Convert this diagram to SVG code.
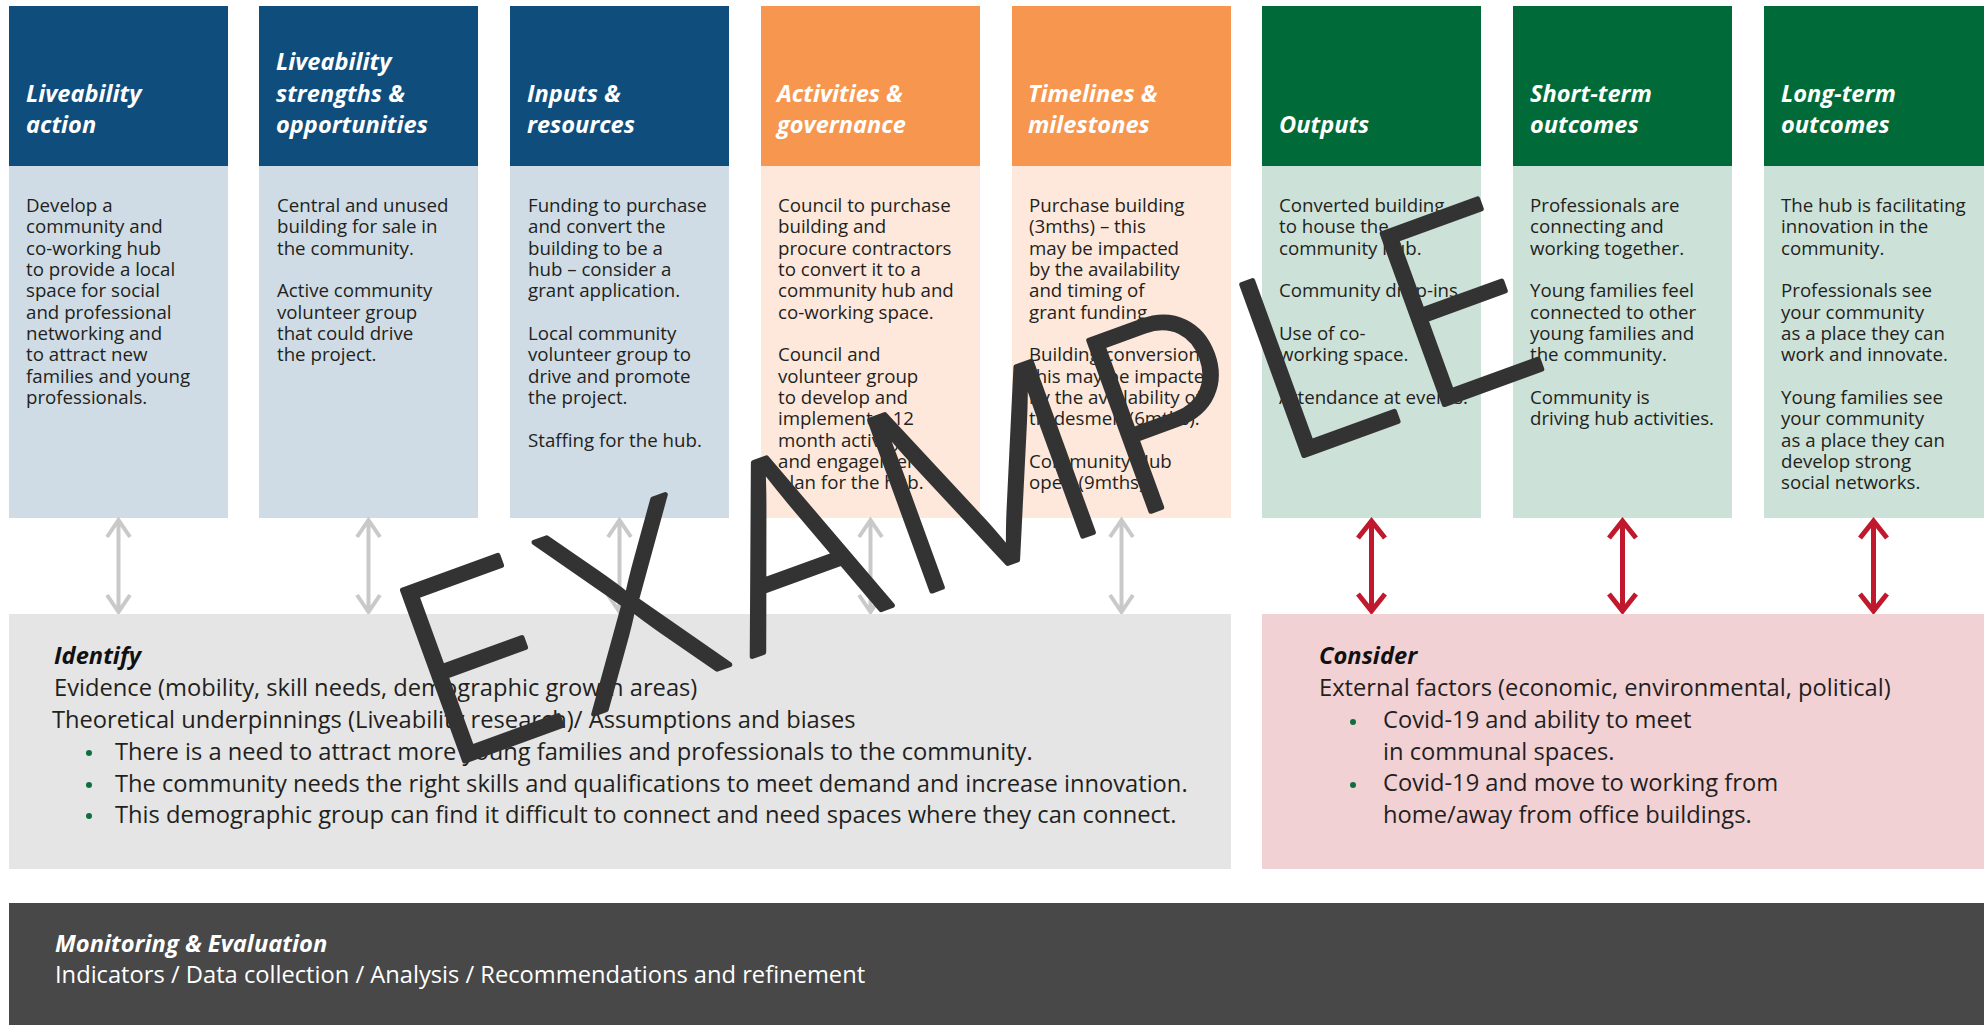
<svg xmlns="http://www.w3.org/2000/svg" width="1984" height="1025" viewBox="0 0 1984 1025">
<style>
.hd{font-family:"Open Sans","Noto Sans",sans-serif;font-weight:700;font-style:italic;font-size:23.6px;fill:#fff}
.bd{font-family:"Open Sans","Noto Sans",sans-serif;font-size:18.7px;fill:#231f20}
.bt{font-family:"Open Sans","Noto Sans",sans-serif;font-size:23.7px;fill:#231f20}
.bh{font-family:"Open Sans","Noto Sans",sans-serif;font-weight:700;font-style:italic;font-size:23.7px;fill:#111}
.blueH{fill:#0f4d7d}.blueB{fill:#cfdce5}
.orH{fill:#f7974f}.orB{fill:#fde8db}
.grH{fill:#006b38}.grB{fill:#cce1d8}
.dot{fill:#0e6e3e}
.ga{fill:none;stroke:#c9c9c9;stroke-width:4;stroke-linecap:butt;stroke-linejoin:miter}
.ra{fill:none;stroke:#c0192d;stroke-width:5;stroke-linecap:butt;stroke-linejoin:miter}
.wm{font-family:Inter,"Noto Sans",sans-serif;font-weight:200;font-size:250px;fill:#333;stroke:#333;stroke-width:5;stroke-linejoin:round}
</style>
<rect width="1984" height="1025" fill="#fff"/>

<g id="col1">
<rect class="blueH" x="9" y="6" width="219" height="160"/>
<rect class="blueB" x="9" y="166" width="219" height="352"/>
<text class="hd"><tspan x="26" y="101.5">Liveability</tspan><tspan x="26" y="133">action</tspan></text>
<text class="bd"><tspan x="26" y="212">Develop a</tspan><tspan x="26" y="233.3">community and</tspan><tspan x="26" y="254.7">co-working hub</tspan><tspan x="26" y="276">to provide a local</tspan><tspan x="26" y="297.3">space for social</tspan><tspan x="26" y="318.7">and professional</tspan><tspan x="26" y="340">networking and</tspan><tspan x="26" y="361.3">to attract new</tspan><tspan x="26" y="382.7">families and young</tspan><tspan x="26" y="404">professionals.</tspan></text>
</g>

<g id="col2">
<rect class="blueH" x="259" y="6" width="219" height="160"/>
<rect class="blueB" x="259" y="166" width="219" height="352"/>
<text class="hd"><tspan x="276" y="70">Liveability</tspan><tspan x="276" y="101.5">strengths &amp;</tspan><tspan x="276" y="133">opportunities</tspan></text>
<text class="bd"><tspan x="277" y="212">Central and unused</tspan><tspan x="277" y="233.3">building for sale in</tspan><tspan x="277" y="254.7">the community.</tspan><tspan x="277" y="297.3">Active community</tspan><tspan x="277" y="318.7">volunteer group</tspan><tspan x="277" y="340">that could drive</tspan><tspan x="277" y="361.3">the project.</tspan></text>
</g>

<g id="col3">
<rect class="blueH" x="510" y="6" width="219" height="160"/>
<rect class="blueB" x="510" y="166" width="219" height="352"/>
<text class="hd"><tspan x="527" y="101.5">Inputs &amp;</tspan><tspan x="527" y="133">resources</tspan></text>
<text class="bd"><tspan x="528" y="212">Funding to purchase</tspan><tspan x="528" y="233.3">and convert the</tspan><tspan x="528" y="254.7">building to be a</tspan><tspan x="528" y="276">hub – consider a</tspan><tspan x="528" y="297.3">grant application.</tspan><tspan x="528" y="340">Local community</tspan><tspan x="528" y="361.3">volunteer group to</tspan><tspan x="528" y="382.7">drive and promote</tspan><tspan x="528" y="404">the project.</tspan><tspan x="528" y="446.7">Staffing for the hub.</tspan></text>
</g>

<g id="col4">
<rect class="orH" x="761" y="6" width="219" height="160"/>
<rect class="orB" x="761" y="166" width="219" height="352"/>
<text class="hd"><tspan x="777" y="101.5">Activities &amp;</tspan><tspan x="777" y="133">governance</tspan></text>
<text class="bd"><tspan x="778" y="212">Council to purchase</tspan><tspan x="778" y="233.3">building and</tspan><tspan x="778" y="254.7">procure contractors</tspan><tspan x="778" y="276">to convert it to a</tspan><tspan x="778" y="297.3">community hub and</tspan><tspan x="778" y="318.7">co-working space.</tspan><tspan x="778" y="361.3">Council and</tspan><tspan x="778" y="382.7">volunteer group</tspan><tspan x="778" y="404">to develop and</tspan><tspan x="778" y="425.3">implement a 12</tspan><tspan x="778" y="446.7">month activity</tspan><tspan x="778" y="468">and engagement</tspan><tspan x="778" y="489.3">plan for the hub.</tspan></text>
</g>

<g id="col5">
<rect class="orH" x="1012" y="6" width="219" height="160"/>
<rect class="orB" x="1012" y="166" width="219" height="352"/>
<text class="hd"><tspan x="1028" y="101.5">Timelines &amp;</tspan><tspan x="1028" y="133">milestones</tspan></text>
<text class="bd"><tspan x="1029" y="212">Purchase building</tspan><tspan x="1029" y="233.3">(3mths) – this</tspan><tspan x="1029" y="254.7">may be impacted</tspan><tspan x="1029" y="276">by the availability</tspan><tspan x="1029" y="297.3">and timing of</tspan><tspan x="1029" y="318.7">grant funding.</tspan><tspan x="1029" y="361.3">Building conversion –</tspan><tspan x="1029" y="382.7">this may be impacted</tspan><tspan x="1029" y="404">by the availability of</tspan><tspan x="1029" y="425.3">tradesmen (6mths).</tspan><tspan x="1029" y="468">Community Hub</tspan><tspan x="1029" y="489.3">open (9mths).</tspan></text>
</g>

<g id="col6">
<rect class="grH" x="1262" y="6" width="219" height="160"/>
<rect class="grB" x="1262" y="166" width="219" height="352"/>
<text class="hd"><tspan x="1279" y="133">Outputs</tspan></text>
<text class="bd"><tspan x="1279" y="212">Converted building</tspan><tspan x="1279" y="233.3">to house the</tspan><tspan x="1279" y="254.7">community hub.</tspan><tspan x="1279" y="297.3">Community drop-ins</tspan><tspan x="1279" y="340">Use of co-</tspan><tspan x="1279" y="361.3">working space.</tspan><tspan x="1279" y="404">Attendance at events.</tspan></text>
</g>

<g id="col7">
<rect class="grH" x="1513" y="6" width="219" height="160"/>
<rect class="grB" x="1513" y="166" width="219" height="352"/>
<text class="hd"><tspan x="1530" y="101.5">Short-term</tspan><tspan x="1530" y="133">outcomes</tspan></text>
<text class="bd"><tspan x="1530" y="212">Professionals are</tspan><tspan x="1530" y="233.3">connecting and</tspan><tspan x="1530" y="254.7">working together.</tspan><tspan x="1530" y="297.3">Young families feel</tspan><tspan x="1530" y="318.7">connected to other</tspan><tspan x="1530" y="340">young families and</tspan><tspan x="1530" y="361.3">the community.</tspan><tspan x="1530" y="404">Community is</tspan><tspan x="1530" y="425.3">driving hub activities.</tspan></text>
</g>

<g id="col8">
<rect class="grH" x="1764" y="6" width="220" height="160"/>
<rect class="grB" x="1764" y="166" width="220" height="352"/>
<text class="hd"><tspan x="1781" y="101.5">Long-term</tspan><tspan x="1781" y="133">outcomes</tspan></text>
<text class="bd"><tspan x="1781" y="212">The hub is facilitating</tspan><tspan x="1781" y="233.3">innovation in the</tspan><tspan x="1781" y="254.7">community.</tspan><tspan x="1781" y="297.3">Professionals see</tspan><tspan x="1781" y="318.7">your community</tspan><tspan x="1781" y="340">as a place they can</tspan><tspan x="1781" y="361.3">work and innovate.</tspan><tspan x="1781" y="404">Young families see</tspan><tspan x="1781" y="425.3">your community</tspan><tspan x="1781" y="446.7">as a place they can</tspan><tspan x="1781" y="468">develop strong</tspan><tspan x="1781" y="489.3">social networks.</tspan></text>
</g>

<g id="connectors">
<path class="ga" d="M118.5 520V612M107 537L118.5 520L130 537M107 595L118.5 612L130 595"/>
<path class="ga" d="M368.5 520V612M357 537L368.5 520L380 537M357 595L368.5 612L380 595"/>
<path class="ga" d="M619.5 520V612M608 537L619.5 520L631 537M608 595L619.5 612L631 595"/>
<path class="ga" d="M870.5 520V612M859 537L870.5 520L882 537M859 595L870.5 612L882 595"/>
<path class="ga" d="M1121.5 520V612M1110 537L1121.5 520L1133 537M1110 595L1121.5 612L1133 595"/>
<path class="ra" d="M1371.5 521V611M1358 538L1371.5 521L1385 538M1358 594L1371.5 611L1385 594"/>
<path class="ra" d="M1622.5 521V611M1609 538L1622.5 521L1636 538M1609 594L1622.5 611L1636 594"/>
<path class="ra" d="M1873.5 521V611M1860 538L1873.5 521L1887 538M1860 594L1873.5 611L1887 594"/>
</g>

<g id="identify">
<rect x="9" y="614" width="1222" height="255" fill="#e5e5e5"/>
<text class="bh" x="54" y="664">Identify</text>
<text class="bt" x="54" y="696">Evidence (mobility, skill needs, demographic growth areas)</text>
<text class="bt" x="52" y="728">Theoretical underpinnings (Liveability research)/ Assumptions and biases</text>
<circle class="dot" cx="89" cy="753" r="3"/>
<circle class="dot" cx="89" cy="785" r="3"/>
<circle class="dot" cx="89" cy="816" r="3"/>
<text class="bt" x="115" y="760">There is a need to attract more young families and professionals to the community.</text>
<text class="bt" x="115" y="792">The community needs the right skills and qualifications to meet demand and increase innovation.</text>
<text class="bt" x="115" y="823">This demographic group can find it difficult to connect and need spaces where they can connect.</text>
</g>

<g id="consider">
<rect x="1262" y="614" width="722" height="255" fill="#f2d1d5"/>
<text class="bh" x="1319" y="664">Consider</text>
<text class="bt" x="1319" y="696">External factors (economic, environmental, political)</text>
<circle class="dot" cx="1353" cy="722" r="3"/>
<circle class="dot" cx="1353" cy="785" r="3"/>
<text class="bt"><tspan x="1383" y="728">Covid-19 and ability to meet</tspan><tspan x="1383" y="760">in communal spaces.</tspan></text>
<text class="bt"><tspan x="1383" y="791">Covid-19 and move to working from</tspan><tspan x="1383" y="823">home/away from office buildings.</tspan></text>
</g>

<g id="monitoring">
<rect x="9" y="903" width="1975" height="122" fill="#484848"/>
<text class="bh" x="55" y="952" style="fill:#fff">Monitoring &amp; Evaluation</text>
<text class="bt" x="55" y="983" style="fill:#fff">Indicators / Data collection / Analysis / Recommendations and refinement</text>
</g>

<g id="watermark">
<text class="wm" x="440" y="770" transform="rotate(-20 440 770)" textLength="1190" lengthAdjust="spacing">EXAMPLE</text>
</g>
</svg>
